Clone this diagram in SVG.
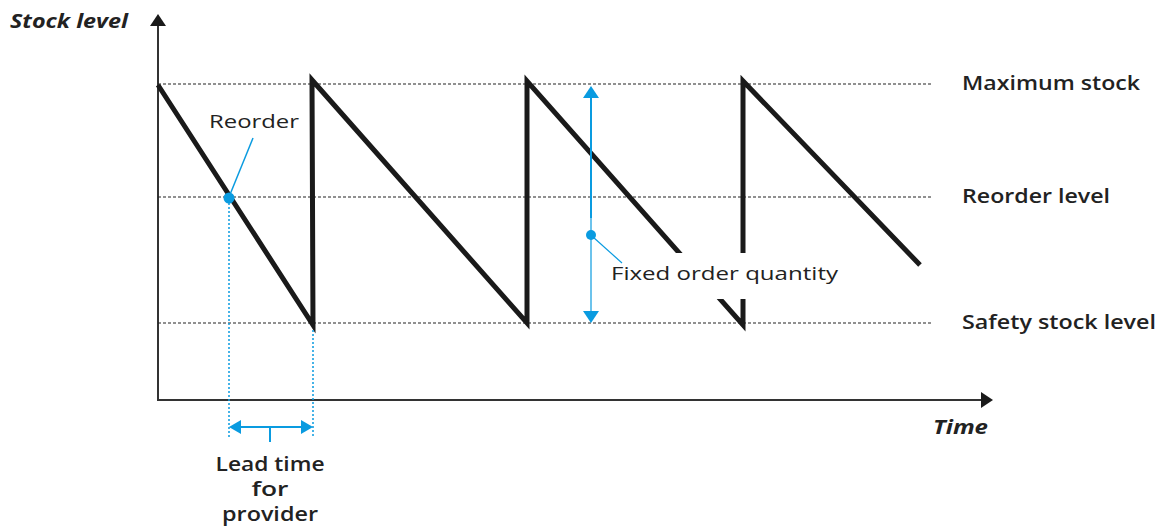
<svg xmlns="http://www.w3.org/2000/svg" width="1166" height="526" viewBox="0 0 1166 526">
<style>
.dash{stroke:#222;stroke-width:1.2;stroke-dasharray:3 2;fill:none}
.saw{stroke:#1a1a1a;stroke-width:5;fill:none;stroke-linejoin:miter;stroke-linecap:butt}
.axis{stroke:#333;stroke-width:2;fill:none}
.blue{stroke:#0a9be0;fill:none}
.bdot{stroke:#0a9be0;stroke-width:1.5;stroke-dasharray:2 2;fill:none}
.lbl{font-family:"Open Sans","Liberation Sans",sans-serif;font-weight:600;font-size:20px;fill:#222}
.reg{font-family:"Open Sans","Liberation Sans",sans-serif;font-size:19px;fill:#222}
.ax{font-family:"Open Sans","Liberation Sans",sans-serif;font-weight:700;font-style:italic;font-size:20px;fill:#222}
</style>
<g id="axes">
<line class="axis" x1="158" y1="400" x2="158" y2="24"/>
<polygon points="158,14 150,26 166,26" fill="#1a1a1a"/>
<line class="axis" x1="157" y1="400" x2="984" y2="400"/>
<polygon points="993,400 981,392 981,408" fill="#1a1a1a"/>
<text class="ax" x="10" y="28" textLength="118" lengthAdjust="spacingAndGlyphs">Stock level</text>
<text class="ax" x="933" y="434" textLength="55" lengthAdjust="spacingAndGlyphs">Time</text>
</g>
<g id="levels">
<line class="dash" x1="158" y1="84" x2="932" y2="84"/>
<line class="dash" x1="158" y1="197" x2="932" y2="197"/>
<line class="dash" x1="158" y1="323" x2="932" y2="323"/>
<text class="lbl" x="962" y="90" textLength="178" lengthAdjust="spacingAndGlyphs">Maximum stock</text>
<text class="lbl" x="962" y="203" textLength="148" lengthAdjust="spacingAndGlyphs">Reorder level</text>
<text class="lbl" x="962" y="329" textLength="194" lengthAdjust="spacingAndGlyphs">Safety stock level</text>
</g>
<g id="sawtooth">
<polyline class="saw" points="158,85 313,325 312,80 527,323 527,81 743,325 743,81 920,265"/>
</g>
<g id="fixed-order">
<rect x="602" y="253" width="240" height="46" fill="#fff"/>
<line class="blue" stroke-width="2" x1="591" y1="96" x2="591" y2="218"/>
<line class="blue" stroke-width="1.2" x1="591" y1="218" x2="591" y2="313"/>
<polygon points="591,86 583,98 599,98" fill="#0a9be0"/>
<polygon points="591,323 583,311 599,311" fill="#0a9be0"/>
<circle cx="591" cy="235" r="5" fill="#0a9be0"/>
<line class="blue" stroke-width="1.2" x1="593" y1="237" x2="622" y2="263"/>
<text class="reg" x="611" y="280" textLength="227" lengthAdjust="spacingAndGlyphs">Fixed order quantity</text>
</g>
<g id="reorder">
<line class="blue" stroke-width="1.5" x1="229" y1="197" x2="253" y2="138"/>
<circle cx="229" cy="198" r="5.5" fill="#0a9be0"/>
<text class="reg" x="209" y="128" textLength="90" lengthAdjust="spacingAndGlyphs">Reorder</text>
</g>
<g id="lead-time">
<line class="bdot" x1="229" y1="203" x2="229" y2="437"/>
<line class="bdot" x1="313" y1="330" x2="313" y2="437"/>
<line class="blue" stroke-width="2" x1="238" y1="427" x2="304" y2="427"/>
<polygon points="229,427 241,420 241,434" fill="#0a9be0"/>
<polygon points="313,427 301,420 301,434" fill="#0a9be0"/>
<line class="blue" stroke-width="2" x1="270" y1="427" x2="270" y2="442"/>
<text class="lbl" x="270" y="471" text-anchor="middle" textLength="109" lengthAdjust="spacingAndGlyphs">Lead time</text>
<text class="lbl" x="270" y="496" text-anchor="middle" textLength="37" lengthAdjust="spacingAndGlyphs">for</text>
<text class="lbl" x="270" y="521" text-anchor="middle" textLength="96" lengthAdjust="spacingAndGlyphs">provider</text>
</g>
</svg>
